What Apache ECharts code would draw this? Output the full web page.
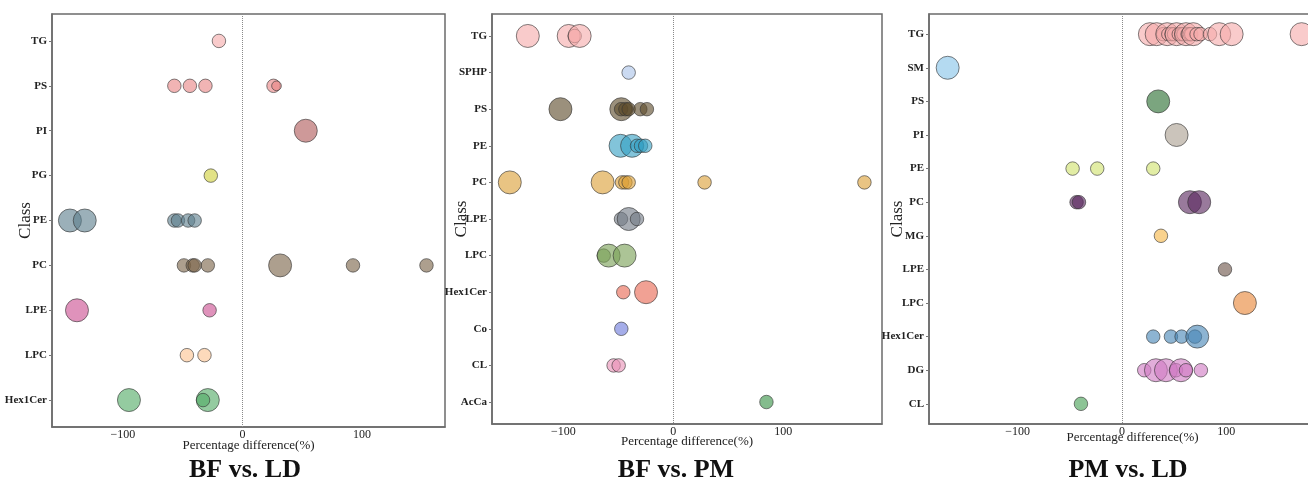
<!DOCTYPE html>
<html>
<head>
<meta charset="utf-8">
<script src="https://cdn.jsdelivr.net/npm/echarts@6/dist/echarts.min.js"></script>
<style>
html,body{margin:0;padding:0;background:#fff;}
#chart{width:1308px;height:479px;}
</style>
</head>
<body>
<div id="chart"></div>
<script>
// ---------- Panel 1: BF vs. LD ----------
const p1Title = 'BF vs. LD';
const p1Classes = ['TG','PS','PI','PG','PE','PC','LPE','LPC','Hex1Cer'];
const p1Values = [
  [-19.7],
  [-57, -44, -31, 26, 28.5],
  [53],
  [-26.5],
  [-144.4, -132, -57, -54, -45.5, -40],
  [-49, -41.6, -40, -29, 31.5, 92.5, 154],
  [-138.5, -27.5],
  [-46.5, -31.8],
  [-95, -29, -33]
];
const p1Weights = [
  [1],
  [1, 1, 1, 1, 0.6],
  [2],
  [1],
  [2, 2, 1, 1, 1, 1],
  [1, 1, 1, 1, 2, 1, 1],
  [2, 1],
  [1, 1],
  [2, 2, 1]
];
// ---------- Panel 2: BF vs. PM ----------
const p2Title = 'BF vs. PM';
const p2Classes = ['TG','SPHP','PS','PE','PC','LPE','LPC','Hex1Cer','Co','CL','AcCa'];
const p2Values = [
  [-132.4, -95.2, -89.7, -85.2],
  [-40.6],
  [-102.7, -47.3, -47.5, -43.6, -40.6, -30, -24],
  [-48, -37.5, -33, -29.4, -25.5],
  [-148.8, -64.3, -46.7, -43.6, -40.6, 28.5, 174],
  [-47.6, -40.6, -33],
  [-63.3, -58.8, -44.3],
  [-45.5, -24.8],
  [-47.3],
  [-54.3, -49.7],
  [84.8]
];
const p2Weights = [
  [2, 2, 1, 2],
  [1],
  [2, 2, 1, 1, 1, 1, 1],
  [2, 2, 1, 1, 1],
  [2, 2, 1, 1, 1, 1, 1],
  [1, 2, 1],
  [1, 2, 2],
  [1, 2],
  [1],
  [1, 1],
  [1]
];
// ---------- Panel 3: PM vs. LD ----------
const p3Title = 'PM vs. LD';
const p3Classes = ['TG','SM','PS','PI','PE','PC','MG','LPE','LPC','Hex1Cer','DG','CL'];
const p3Values = [
  [26.8, 33.3, 39.6, 43.4, 44.5, 47.6, 50, 52.4, 54.5, 57.2, 59, 61.4, 63, 65.2, 66.5, 68.4, 71.6, 75.4, 84.4, 93.3, 105.2, 172.3],
  [-167.1],
  [34.8],
  [52.4],
  [-47.3, -23.7, 30],
  [-43.5, -41.2, 65.2, 74.1],
  [37.4],
  [98.8],
  [117.9],
  [30, 47, 57.2, 70, 72.2],
  [21.4, 32.6, 42.2, 51.8, 56.6, 61.4, 75.7],
  [-39.3]
];
const p3Weights = [
  [2, 2, 1, 2, 1, 1, 1, 2, 1, 1, 1, 2, 1, 1, 1, 2, 1, 1, 1, 2, 2, 2],
  [2],
  [2],
  [2],
  [1, 1, 1],
  [1, 1, 2, 2],
  [1],
  [1],
  [2],
  [1, 1, 1, 1, 2],
  [1, 2, 2, 1, 2, 1, 1],
  [1]
];
const xTickValues = [-100, 0, 100];

// ---------- styles ----------
const p1Colors = ['#f5abab','#e98686','#b05a5a','#d0d03c','#5e7f8e','#7a6448','#cb4f92','#fbc392','#53ab65'];
const p2Colors = ['#f5abab','#abc4e8','#5e4c2c','#369fc4','#dc9f37','#727a86','#799f55','#e86852','#6d7adc','#e992b7','#389347'];
const p3Colors = ['#f5abab','#86c4e8','#2a6e30','#ab9f92','#d0e26d','#5a2860','#f5b747','#6d564a','#e98637','#4786b7','#d07ac4','#479f56'];

const panels = [
  {title:p1Title, classes:p1Classes, values:p1Values, weights:p1Weights, colors:p1Colors,
   grid:{left:52, top:14, width:393, height:413}, min:-159.4, max:169.5,
   nameGapY:18, nameGapX:12, titleX:240, namePad:0},
  {title:p2Title, classes:p2Classes, values:p2Values, weights:p2Weights, colors:p2Colors,
   grid:{left:492, top:14, width:390, height:410}, min:-165, max:190,
   nameGapY:22, nameGapX:11, titleX:671, namePad:0},
  {title:p3Title, classes:p3Classes, values:p3Values, weights:p3Weights, colors:p3Colors,
   grid:{left:929, top:14, width:389, height:410}, min:-185, max:188,
   nameGapY:23, nameGapX:7, titleX:1123, namePad:18}
];

const serif = '"Liberation Serif", "Times New Roman", serif';
const fmtMinus = v => v < 0 ? '\u2212' + Math.abs(v) : String(v);

const option = {
  animation: false,
  backgroundColor: '#fff',
  title: [], grid: [], xAxis: [], yAxis: [], series: []
};

panels.forEach((p, pi) => {
  const n = p.classes.length;
  option.title.push({
    text: p.title, left: p.titleX, top: 452, textAlign: 'center',
    textStyle: {fontFamily: serif, fontWeight: 'bold', fontSize: 26, color: '#111'}
  });
  option.grid.push(Object.assign({show: true, borderColor: '#6b6b6b', borderWidth: 1.5,
    backgroundColor: 'transparent', containLabel: false, outerBoundsMode: 'none'}, p.grid));
  option.xAxis.push({
    type: 'value', gridIndex: pi, min: p.min, max: p.max,
    name: 'Percentage difference(%)', nameLocation: 'middle', nameGap: p.nameGapX,
    nameMoveOverlap: false,
    nameTextStyle: {fontFamily: serif, fontSize: 13, color: '#222', padding: [0, 0, 0, p.namePad]},
    axisLine: {show: true, onZero: false, lineStyle: {color: '#6b6b6b', width: 1.5}},
    axisTick: {show: false},
    splitLine: {show: false},
    axisLabel: {customValues: xTickValues, formatter: fmtMinus, margin: 2,
      fontFamily: serif, fontSize: 12, color: '#222'}
  });
  const idx = p.classes.map((c, i) => i);
  option.yAxis.push({
    type: 'value', gridIndex: pi, inverse: true, min: -0.6, max: n - 1 + 0.6,
    name: 'Class', nameLocation: 'middle', nameGap: p.nameGapY,
    nameMoveOverlap: false,
    nameTextStyle: {fontFamily: serif, fontSize: 17, color: '#222'},
    axisLine: {show: true, onZero: false, lineStyle: {color: '#6b6b6b', width: 1.5}},
    axisTick: {show: true, length: 3, customValues: idx, lineStyle: {color: '#777', width: 1}},
    splitLine: {show: false},
    axisLabel: {customValues: idx, formatter: v => p.classes[Math.round(v)] || '', margin: 5,
      fontFamily: serif, fontSize: 11, fontWeight: 'bold', color: '#222'}
  });
  p.classes.forEach((c, ci) => {
    const s = {
      name: p.title + ' ' + c,
      type: 'scatter', xAxisIndex: pi, yAxisIndex: pi,
      data: p.values[ci].map((v, k) => [v, ci, p.weights[ci][k]]),
      symbolSize: d => 4 + 9.5 * d[2],
      itemStyle: {color: p.colors[ci], opacity: 0.62, borderColor: '#333', borderWidth: 1}
    };
    if (ci === 0) {
      s.markLine = {
        silent: true, symbol: 'none', animation: false,
        label: {show: false},
        lineStyle: {type: 'dotted', color: '#8a8a8a', width: 1},
        data: [{xAxis: 0}]
      };
    }
    option.series.push(s);
  });
});

const chart = echarts.init(document.getElementById('chart'));
chart.setOption(option);
</script>
</body>
</html>
